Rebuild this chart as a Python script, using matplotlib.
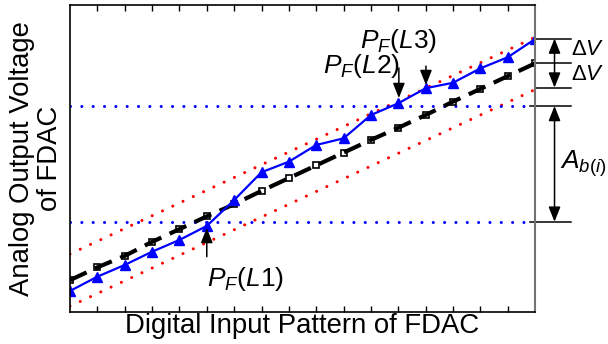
import matplotlib.pyplot as plt
from matplotlib.patches import ArrowStyle

plt.rcParams['font.family'] = ['Liberation Sans', 'DejaVu Sans']
plt.rcParams['mathtext.fontset'] = 'custom'
plt.rcParams['mathtext.rm'] = 'Liberation Sans'
plt.rcParams['mathtext.it'] = 'Liberation Sans:italic'

# digital input codes
codes = list(range(18))
# ideal (reference) output, black dashed
ideal = [2.5, 3.5, 4.4, 5.5, 6.5, 7.5, 8.45, 9.5, 10.5, 11.5, 12.5, 13.5,
         14.45, 15.45, 16.5, 17.5, 18.5, 19.5]
# actual FDAC output, blue
actual = [1.65, 2.77, 3.69, 4.73, 5.65, 6.75, 8.78, 10.96, 11.79, 13.1, 13.62,
          15.45, 16.37, 17.55, 17.98, 19.11, 19.98, 21.41]
# tolerance band (red dotted), end points
band_x = [0, 17]
band_upper = [4.55, 21.55]
band_lower = [0.45, 17.45]
# A_b(i) window (blue dotted)
window_levels = [16.16, 7.08]
# right-side markers
dv_levels = [21.45, 19.5, 17.6]

fig = plt.figure(figsize=(6.08, 3.44), dpi=100)
ax = fig.add_axes([0.1151, 0.093, 0.765, 0.8925])
ax.set_xlim(0, 17)
ax.set_ylim(0, 24.08)

dot = (0, (0.01, 3.7))
ax.plot(band_x, band_upper, color='#ff0000', lw=2.2, ls=dot, dash_capstyle='round')
ax.plot(band_x, band_lower, color='#ff0000', lw=2.2, ls=dot, dash_capstyle='round')
for lv in window_levels:
    ax.plot([0, 16.85], [lv, lv], color='#0000ff', lw=2.2, ls=dot, dash_capstyle='round')

ax.plot(codes, ideal, ls='none', marker='s', ms=5, mfc='white', mec='black', mew=1.2)
ax.plot(codes, ideal, color='black', lw=3, ls=(0, (4.4, 2.2)))
ax.plot(codes, actual, color='#0000ff', lw=1.6, marker='^', ms=6.5,
        mfc='#0000ff', mec='#0000ff')

# spines and ticks
for s in ['top', 'left', 'bottom']:
    ax.spines[s].set_linewidth(1.2)
ax.spines['right'].set_color('0.45')
ax.spines['right'].set_linewidth(1.5)
ax.set_xticks(range(1, 17))
ax.set_yticks([])
ax.tick_params(axis='x', direction='in', length=4, width=1, top=True,
               labelbottom=False)
ax.set_xlabel('Digital Input Pattern of FDAC', fontsize=19.8, labelpad=1)
ax.set_ylabel('Analog Output Voltage\nof FDAC', fontsize=19.8, labelpad=5,
              linespacing=1.1)

# P_F annotations
arr = dict(arrowstyle=ArrowStyle('-|>', head_length=0.5, head_width=0.2),
           color='black', lw=1.1, mutation_scale=18, shrinkA=0, shrinkB=0)
ax.annotate('', xy=(5, 6.59), xytext=(5, 4.34), arrowprops=arr)
ax.annotate('', xy=(12.02, 16.78), xytext=(12.02, 19.14), arrowprops=arr)
ax.annotate('', xy=(13.01, 17.8), xytext=(13.01, 19.29), arrowprops=arr)
ax.text(4.99, 2.04, '$P_F(L1)$', fontsize=19, ha='left', va='baseline')
ax.text(9.23, 18.72, '$P_F(L2)$', fontsize=19, ha='left', va='baseline')
ax.text(10.6, 20.7, '$P_F(L3)$', fontsize=19, ha='left', va='baseline')

# right-side bracket marks
for lv in dv_levels:
    ax.plot([17, 18.31], [lv, lv], color='black', lw=1.1, clip_on=False)
for lv in window_levels:
    ax.plot([16.82, 18.31], [lv, lv], color='black', lw=1.1, clip_on=False)
darr = dict(arr, arrowstyle=ArrowStyle('<|-|>', head_length=0.5, head_width=0.2))
ax.annotate('', xy=(17.71, dv_levels[0]), xytext=(17.71, dv_levels[2]),
            arrowprops=darr, annotation_clip=False)
ax.annotate('', xy=(17.71, window_levels[0]), xytext=(17.71, window_levels[1]),
            arrowprops=darr, annotation_clip=False)
ax.text(18.3, 20.55, r'$\Delta V$', fontsize=16, ha='left', va='center')
ax.text(18.3, 18.6, r'$\Delta V$', fontsize=16, ha='left', va='center')
ax.text(17.92, 11.6, '$A_{b(i)}$', fontsize=19, ha='left', va='center')

fig.savefig('out.png', dpi=100)
